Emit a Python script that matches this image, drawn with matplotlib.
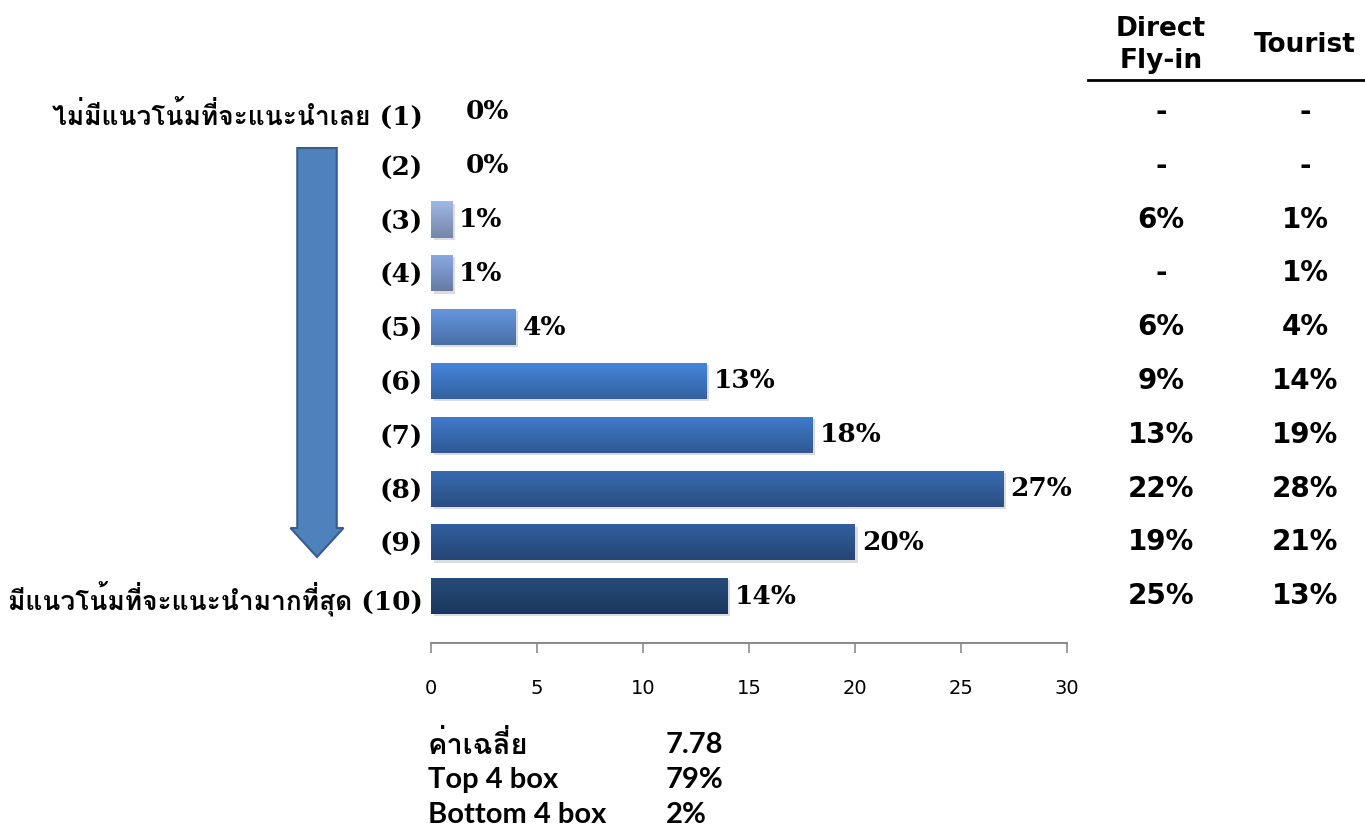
import numpy as np
import matplotlib
matplotlib.use("Agg")
import matplotlib.pyplot as plt
import matplotlib.transforms as mtrans
from matplotlib import font_manager as fm
from matplotlib.ft2font import FT2Font
from matplotlib.patches import FancyArrow

# data
labels = ["ไม่มีแนวโน้มที่จะแนะนำเลย (1)", "(2)", "(3)", "(4)", "(5)", "(6)", "(7)", "(8)", "(9)",
          "มีแนวโน้มที่จะแนะนำมากที่สุด (10)"]
values = [0, 0, 1, 1, 4, 13, 18, 27, 20, 14]
direct_flyin = ["-", "-", "6%", "-", "6%", "9%", "13%", "22%", "19%", "25%"]
tourist = ["-", "-", "1%", "1%", "4%", "14%", "19%", "28%", "21%", "13%"]
stat_names = ["ค่าเฉลี่ย", "Top 4 box", "Bottom 4 box"]
stat_values = ["7.78", "79%", "2%"]
bar_colors = ["#8ea4cc", "#8ea4cc", "#8ea4cc", "#7d97c8", "#5a87c8", "#3f77c4",
              "#3a6db5", "#33609f", "#2d558f", "#22446f"]

# find a font that has Thai glyphs
thai = None
for f in fm.fontManager.ttflist:
    try:
        if ord("ม") in FT2Font(f.fname).get_charmap():
            thai = f.name
            break
    except Exception:
        pass
serif = ["DejaVu Serif"] + ([thai] if thai else [])
sans = ["Lato", "DejaVu Sans"] + ([thai] if thai else [])

fig = plt.figure(figsize=(13.65, 8.3), dpi=100)
ax = fig.add_axes([431 / 1365, 1 - 643 / 830, 636 / 1365, 558 / 830])

pos = np.arange(1, len(values) + 1)
bars = ax.barh(pos, values, height=0.67, color=bar_colors, edgecolor="none")

# vertical gradient inside each bar
for b, c in zip(bars, bar_colors):
    if b.get_width() <= 0:
        continue
    rgb = np.array(matplotlib.colors.to_rgb(c))
    grad = np.linspace(1.12, 0.82, 32)[:, None, None] * rgb[None, None, :]
    grad = np.clip(grad, 0, 1)
    x0, y0 = b.get_x(), b.get_y()
    im = ax.imshow(grad, extent=(x0, x0 + b.get_width(), y0 + b.get_height(), y0),
                   aspect="auto", zorder=2)
    im.set_clip_path(b)
    # soft shadow
    ax.barh(b.get_y() + b.get_height() / 2 + 0.04, b.get_width(), left=0.12,
            height=b.get_height(), color="#bbbbbb", alpha=0.5, zorder=1)

ax.set_xlim(0, 30)
ax.set_ylim(10.87, 0.5)
ax.set_xticks(range(0, 31, 5))
ax.set_yticks(pos)
ax.set_yticklabels(labels, fontsize=19, fontweight="bold", family=serif)
ax.tick_params(axis="y", length=0, pad=6)
ax.tick_params(axis="x", length=7, width=1.2, color="#8c8c8c", direction="out", pad=19,
               labelsize=14)
for sp in ["top", "right", "left"]:
    ax.spines[sp].set_visible(False)
ax.spines["bottom"].set_color("#8c8c8c")
ax.spines["bottom"].set_linewidth(1.5)

for p, v in zip(pos, values):
    ax.annotate(f"{v}%", (v, p), xytext=(5 if v else 25, 0), textcoords="offset points",
                va="center", ha="left", fontsize=19, fontweight="bold", family=serif)

# right-hand comparison table
tr = mtrans.blended_transform_factory(fig.transFigure, ax.transData)
for p, d, t in zip(pos, direct_flyin, tourist):
    ax.text(1161 / 1365, p, d, transform=tr, ha="center", va="center", fontsize=20,
            fontweight="bold", family="DejaVu Sans", clip_on=False)
    ax.text(1305 / 1365, p, t, transform=tr, ha="center", va="center", fontsize=20,
            fontweight="bold", family="DejaVu Sans", clip_on=False)
fig.text(1161 / 1365, 1 - 45 / 830, "Direct\nFly-in", ha="center", va="center", fontsize=19,
         fontweight="bold", linespacing=1.35)
fig.text(1305 / 1365, 1 - 45 / 830, "Tourist", ha="center", va="center", fontsize=19,
         fontweight="bold")
fig.add_artist(plt.Line2D([1088 / 1365, 1], [1 - 80 / 830] * 2, color="black", lw=2,
                          transform=fig.transFigure))

# arrow showing direction of the scale
fig.patches.append(FancyArrow(317 / 1365, 1 - 148 / 830, 0, -(557 - 148) / 830,
                              width=24 / 830, head_width=53 / 1365, head_length=29 / 830,
                              length_includes_head=True, facecolor="#4f81bd",
                              edgecolor="#385d8a", lw=1.5, transform=fig.transFigure))

# summary stats
for i, (n, v) in enumerate(zip(stat_names, stat_values)):
    y = 1 - (745 + 35 * i) / 830
    fig.text(428 / 1365, y, n, ha="left", va="center", fontsize=21, fontweight="bold",
             family=sans)
    fig.text(666 / 1365, y, v, ha="left", va="center", fontsize=21, fontweight="bold",
             family=sans)

fig.savefig("out.png", dpi=100)
